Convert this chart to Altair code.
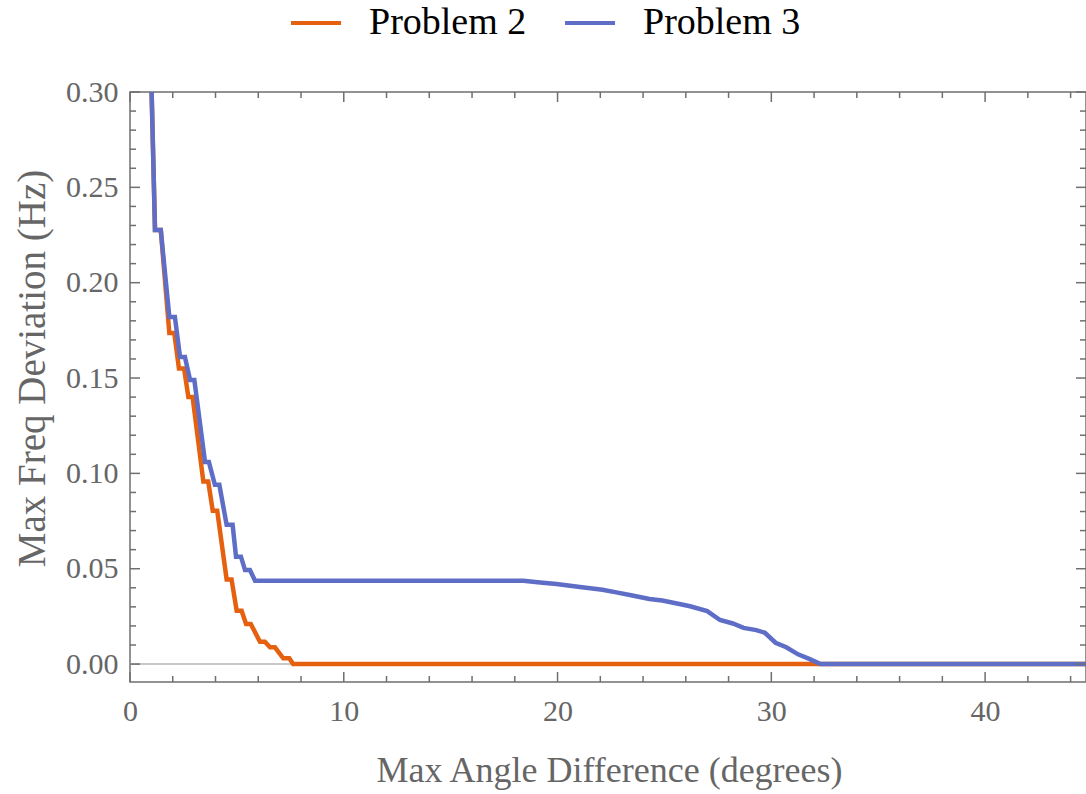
import altair as alt
import pandas as pd

# ---- data ----
series_names = ["Problem 2", "Problem 3"]
series_colors = ["#e5610f", "#5e6ec7"]

p2_x = [0.98, 1.17, 1.44, 1.84, 2.07, 2.29, 2.53, 2.73, 2.93, 3.43,
        3.66, 3.87, 4.08, 4.52, 4.75, 4.99, 5.22, 5.43, 5.65, 6.08,
        6.31, 6.55, 6.78, 7.17, 7.45, 7.63, 44.72]
p2_y = [0.314, 0.2276, 0.2276, 0.1736, 0.1736, 0.155, 0.155, 0.140, 0.140, 0.0957,
        0.0957, 0.0804, 0.0804, 0.0444, 0.0444, 0.028, 0.028, 0.021, 0.021, 0.0117,
        0.0117, 0.0088, 0.0088, 0.003, 0.003, 0.0, 0.0]

p3_x = [0.98, 1.17, 1.44, 1.84, 2.10, 2.34, 2.57, 2.81, 3.01, 3.51,
        3.69, 3.97, 4.18, 4.52, 4.80, 4.96, 5.19, 5.38, 5.61, 5.85,
        18.4, 19.18, 19.95, 21.05, 22.1, 22.75, 23.5, 24.3, 24.9, 25.7,
        26.2, 27.0, 27.6, 28.2, 28.7, 29.3, 29.7, 30.2, 30.7, 31.25,
        31.8, 32.3, 44.72]
p3_y = [0.314, 0.2276, 0.2276, 0.182, 0.182, 0.161, 0.161, 0.149, 0.149, 0.106,
        0.106, 0.094, 0.094, 0.073, 0.073, 0.0563, 0.0563, 0.0493, 0.0493, 0.0437,
        0.0437, 0.0428, 0.0420, 0.0404, 0.0390, 0.0376, 0.0360, 0.0341, 0.0333, 0.0315,
        0.0303, 0.0278, 0.0231, 0.0213, 0.0190, 0.0178, 0.0164, 0.0112, 0.0088, 0.0051,
        0.0026, 0.0, 0.0]

x_major = [0, 10, 20, 30, 40]
x_minor = [2, 4, 6, 8, 12, 14, 16, 18, 22, 24, 26, 28, 32, 34, 36, 38, 42, 44]
y_major = [0.0, 0.05, 0.10, 0.15, 0.20, 0.25, 0.30]
y_minor = [0.01, 0.02, 0.03, 0.04, 0.06, 0.07, 0.08, 0.09, 0.11, 0.12, 0.13, 0.14,
           0.16, 0.17, 0.18, 0.19, 0.21, 0.22, 0.23, 0.24, 0.26, 0.27, 0.28, 0.29]

x_domain = [0, 44.72]
y_domain = [-0.0094, 0.30]

# ---- layout ----
W, H = 956, 590
FONT = "Liberation Serif"
GRAY = "#666666"
FRAME = "#6f6f6f"
MAJ, MIN = 10, 6

xs = alt.Scale(domain=x_domain, nice=False, zero=False)
ys = alt.Scale(domain=y_domain, nice=False, zero=False)

x_axis = alt.Axis(values=x_major, title="Max Angle Difference (degrees)", domain=False,
                  ticks=False, grid=False, labelFont=FONT, labelFontSize=30,
                  labelColor=GRAY, labelPadding=14, labelFlush=False, labelOverlap=False,
                  titleFont=FONT, titleFontSize=36, titleColor=GRAY, titleFontWeight="normal",
                  titleX=479, titleY=99, titleBaseline="alphabetic", titleAlign="center")
y_axis = alt.Axis(values=y_major, format=".2f", title="Max Freq Deviation (Hz)", domain=False,
                  ticks=False, grid=False, labelFont=FONT, labelFontSize=30,
                  labelColor=GRAY, labelPadding=12, labelFlush=False, labelOverlap=False,
                  titleFont=FONT, titleFontSize=39, titleColor=GRAY, titleFontWeight="normal",
                  titleAngle=270, titleX=-86, titleY=276, titleBaseline="alphabetic",
                  titleAlign="center")

legend = alt.Legend(orient="none", legendX=159, legendY=-96, direction="horizontal",
                    title=None, symbolType="stroke", symbolSize=2500, symbolStrokeWidth=4,
                    labelFont=FONT, labelFontSize=38, labelColor="black", labelOffset=26,
                    columnPadding=30, padding=0, labelLimit=400)

color = alt.Color("series:N", scale=alt.Scale(domain=series_names, range=series_colors),
                  legend=legend)

df2 = pd.DataFrame({"x": p2_x, "y": p2_y, "series": series_names[0]})
df3 = pd.DataFrame({"x": p3_x, "y": p3_y, "series": series_names[1]})

zero_line = alt.Chart(pd.DataFrame({"y": [0.0]})).mark_rule(
    color="#c8c8c8", strokeWidth=2).encode(y=alt.Y("y:Q", scale=ys, axis=y_axis))

line2 = alt.Chart(df2).mark_line(strokeWidth=4.5, clip=True, strokeJoin="miter").encode(
    x=alt.X("x:Q", scale=xs, axis=x_axis),
    y=alt.Y("y:Q", scale=ys, axis=y_axis),
    color=color)
line3 = alt.Chart(df3).mark_line(strokeWidth=4.5, clip=True, strokeJoin="miter").encode(
    x=alt.X("x:Q", scale=xs, axis=x_axis),
    y=alt.Y("y:Q", scale=ys, axis=y_axis),
    color=color)


def xticks(vals, length):
    d = pd.DataFrame({"t": vals})
    bottom = alt.Chart(d).mark_rule(color=FRAME, strokeWidth=1.5).encode(
        x=alt.X("t:Q", scale=xs, axis=x_axis), y=alt.value(H), y2=alt.value(H - length))
    top = alt.Chart(d).mark_rule(color=FRAME, strokeWidth=1.5).encode(
        x=alt.X("t:Q", scale=xs, axis=x_axis), y=alt.value(0), y2=alt.value(length))
    return [bottom, top]


def yticks(vals, length):
    d = pd.DataFrame({"t": vals})
    left = alt.Chart(d).mark_rule(color=FRAME, strokeWidth=1.5).encode(
        y=alt.Y("t:Q", scale=ys, axis=y_axis), x=alt.value(0), x2=alt.value(length))
    right = alt.Chart(d).mark_rule(color=FRAME, strokeWidth=1.5).encode(
        y=alt.Y("t:Q", scale=ys, axis=y_axis), x=alt.value(W), x2=alt.value(W - length))
    return [left, right]


layers = [zero_line, line2, line3]
layers += xticks(x_major, MAJ) + xticks(x_minor, MIN)
layers += yticks(y_major, MAJ) + yticks(y_minor, MIN)

chart = alt.layer(*layers).properties(
    width=W, height=H,
    autosize=alt.AutoSizeParams(type="none"),
    padding={"left": 130, "top": 92, "right": 0, "bottom": 112},
    background="white",
).configure_view(stroke=FRAME, strokeWidth=1.5)

chart.save("out.html", embed_options={"renderer": "svg", "actions": False})
